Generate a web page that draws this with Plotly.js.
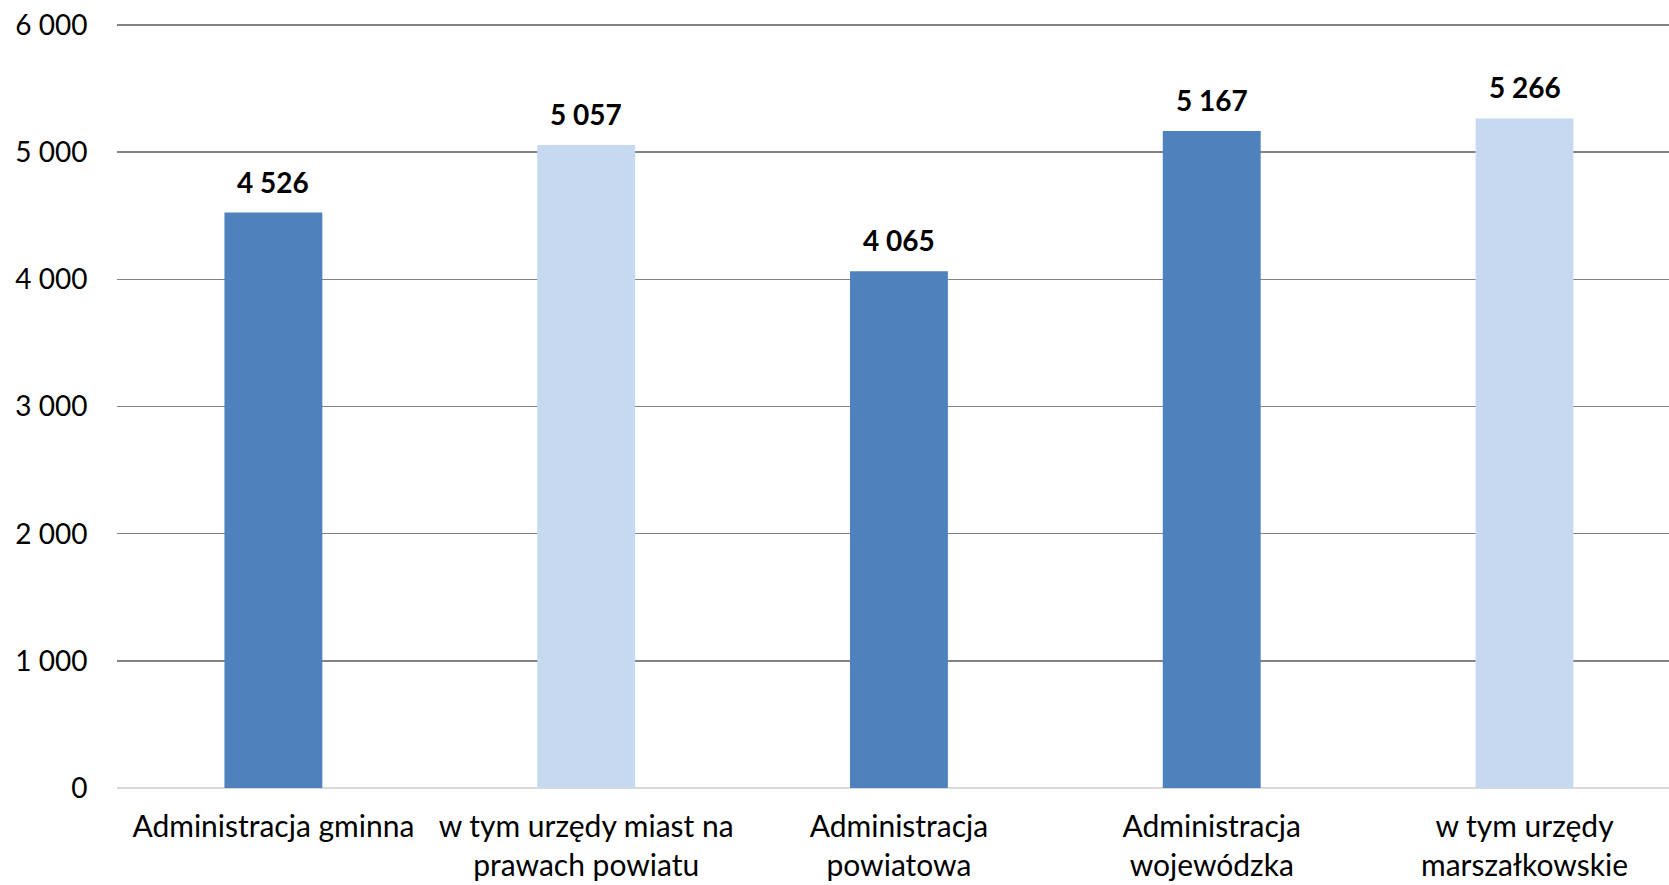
<!DOCTYPE html>
<html>
<head>
<meta charset="utf-8">
<script src="https://cdn.plot.ly/plotly-3.0.1.min.js"></script>
<style>html,body{margin:0;padding:0;background:#fff;}#chart{width:1669px;height:885px;}</style>
</head>
<body>
<div id="chart"></div>
<script>
const categories = [
  "Administracja gminna",
  "w tym urzędy miast na<br>prawach powiatu",
  "Administracja<br>powiatowa",
  "Administracja<br>wojewódzka",
  "w tym urzędy<br>marszałkowskie"
];
const values = [4526, 5057, 4065, 5167, 5266];
const barColors = ["#4F81BD", "#C6D9F1", "#4F81BD", "#4F81BD", "#C6D9F1"];
const yTicks = [0, 1000, 2000, 3000, 4000, 5000, 6000];

function fmt(v) { return String(v).replace(/\B(?=(\d{3})+(?!\d))/g, " "); }

const FONT = "Lato, 'Open Sans', 'Liberation Sans', sans-serif";

const trace = {
  type: "bar",
  x: categories,
  y: values,
  width: 0.313,
  marker: { color: barColors, line: { width: 0 } },
  hoverinfo: "skip",
  showlegend: false
};

const annotations = categories.map((c, i) => ({
  x: c, y: values[i], xref: "x", yref: "y",
  text: "<b>" + fmt(values[i]) + "</b>",
  showarrow: false, yanchor: "bottom", xanchor: "center",
  yshift: 12,
  font: { family: FONT, size: 28, color: "#000" }
}));

const layout = {
  width: 1669, height: 885,
  margin: { l: 117, r: 0, t: 20, b: 97, pad: 0 },
  paper_bgcolor: "#fff", plot_bgcolor: "#fff",
  separators: ", ",
  font: { family: FONT, color: "#000" },
  xaxis: {
    type: "category",
    range: [-0.5, 4.462],
    showgrid: false, showline: false, zeroline: false,
    ticks: "outside", ticklen: 12, tickcolor: "rgba(0,0,0,0)",
    tickfont: { family: FONT, size: 30, color: "#000" },
    fixedrange: true
  },
  yaxis: {
    range: [0, 6040],
    tickvals: yTicks,
    ticktext: yTicks.map(fmt),
    showgrid: true, gridcolor: "#828282", gridwidth: 1.5,
    zeroline: true, zerolinecolor: "#d9d9d9", zerolinewidth: 1.5,
    showline: false,
    ticks: "outside", ticklen: 23, tickcolor: "rgba(0,0,0,0)",
    tickfont: { family: FONT, size: 28, color: "#000" },
    fixedrange: true
  },
  annotations: annotations,
  bargap: 0.68
};

Plotly.newPlot("chart", [trace], layout, { displayModeBar: false, staticPlot: true });
</script>
</body>
</html>
